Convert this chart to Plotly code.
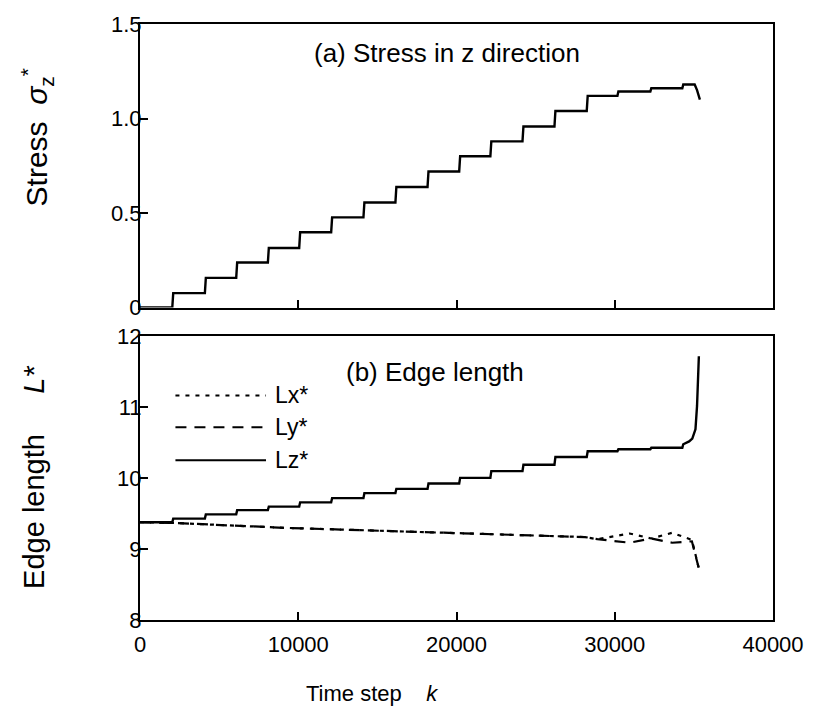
import plotly.graph_objects as go
from plotly.subplots import make_subplots

# ---------------- data ----------------
# time steps at which the load is incremented
step_k = [2040, 4100, 6080, 8080, 10060, 12080, 14120, 16140, 18170,
          20170, 22140, 24170, 26190, 28230, 30170, 32250, 34270]
# panel (a): stress level after each increment
sigma_levels = [0.076, 0.157, 0.238, 0.315, 0.398, 0.477, 0.556, 0.638, 0.72,
                0.80, 0.879, 0.958, 1.04, 1.12, 1.143, 1.16, 1.18]
sigma_start = 0.0
sigma_tail_k = [35050, 35200, 35380]
sigma_tail = [1.18, 1.15, 1.10]

# panel (b): Lz after each increment
lz_start = 9.38
lz_levels = [9.43, 9.49, 9.55, 9.60, 9.66, 9.72, 9.79, 9.85, 9.925,
             10.005, 10.10, 10.19, 10.30, 10.38, 10.41, 10.43, 10.48]
lz_tail_k = [34700, 34900, 35100, 35200, 35270, 35315]
lz_tail = [10.52, 10.56, 10.69, 11.02, 11.39, 11.72]

# Lx and Ly
lxy_k = [0, 2060, 9190, 18750, 28125, 28900, 30940, 32310, 33625, 34875, 35300]
lx = [9.38, 9.37, 9.30, 9.23, 9.17, 9.14, 9.22, 9.15, 9.23, 9.13, 8.74]
ly = [9.38, 9.37, 9.30, 9.23, 9.17, 9.14, 9.09, 9.15, 9.09, 9.11, 8.74]

x_ticks = [0, 10000, 20000, 30000, 40000]
x_ticktext = ["0", "10000", "20000", "30000", "40000"]
y1_ticks = [0, 0.5, 1.0, 1.5]
y1_ticktext = ["0", "0.5", "1.0", "1.5"]
y2_ticks = [8, 9, 10, 11, 12]
y2_ticktext = ["8", "9", "10", "11", "12"]


def stair(v0, ks, vs, rise=60):
    xs, ys = [0], [v0]
    prev = v0
    for k, v in zip(ks, vs):
        xs += [k, k + rise]
        ys += [prev, v]
        prev = v
    return xs, ys


sx, sy = stair(sigma_start, step_k, sigma_levels)
sx += sigma_tail_k
sy += sigma_tail

zx, zy = stair(lz_start, step_k, lz_levels)
zx += lz_tail_k
zy += lz_tail

FONT = "Liberation Sans, Arial, sans-serif"

W, H = 816, 713
L, T = 140, 23
PW, PH = 643, 597
R, B = W - L - PW, H - T - PH


def px(xa):
    return (xa - L) / PW


def py(ya):
    return (620 - ya) / PH


fig = make_subplots(rows=2, cols=1)

fig.add_trace(go.Scatter(x=sx, y=sy, mode="lines",
                         line=dict(color="black", width=2.4),
                         showlegend=False), row=1, col=1)
fig.add_trace(go.Scatter(x=lxy_k, y=lx, mode="lines", name="Lx*",
                         line=dict(color="black", width=2.2, dash="4px,6px"),
                         showlegend=False), row=2, col=1)
fig.add_trace(go.Scatter(x=lxy_k, y=ly, mode="lines", name="Ly*",
                         line=dict(color="black", width=2.2, dash="11px,8px"),
                         showlegend=False), row=2, col=1)
fig.add_trace(go.Scatter(x=zx, y=zy, mode="lines", name="Lz*",
                         line=dict(color="black", width=2.4),
                         showlegend=False), row=2, col=1)

axis_common = dict(showline=True, linecolor="black", linewidth=2, mirror=True,
                   ticks="inside", ticklen=8, tickwidth=1.5, tickcolor="black",
                   showgrid=False, zeroline=False,
                   tickfont=dict(family=FONT, size=22, color="black"))

fig.update_xaxes(range=[0, 40000], tickvals=x_ticks, ticktext=x_ticktext,
                 **axis_common)
fig.update_xaxes(showticklabels=False, row=1, col=1)
fig.update_xaxes(ticklabelstandoff=4, row=2, col=1)
fig.update_yaxes(ticklabelstandoff=-8, **axis_common)
fig.update_yaxes(range=[0, 1.5], tickvals=y1_ticks, ticktext=y1_ticktext, row=1, col=1)
fig.update_yaxes(range=[8, 12], tickvals=y2_ticks, ticktext=y2_ticktext, row=2, col=1)

fig.update_layout(
    width=W, height=H,
    margin=dict(l=L, r=R, t=T, b=B),
    paper_bgcolor="white", plot_bgcolor="white",
    font=dict(family=FONT, color="black"),
    yaxis=dict(domain=[py(307), 1.0]),
    yaxis2=dict(domain=[0.0, py(336)]),
    xaxis=dict(domain=[0, 1]), xaxis2=dict(domain=[0, 1]),
)

annotations = [
    dict(text="(a) Stress in z direction", x=452, y=52),
    dict(text="(b) Edge length", x=440, y=372),
]
for a in annotations:
    fig.add_annotation(text=a["text"], xref="paper", yref="paper",
                       x=px(a["x"]), y=py(a["y"]),
                       showarrow=False, xanchor="center", yanchor="middle",
                       font=dict(family=FONT, size=26, color="black"))

# axis titles
fig.add_annotation(text="Stress&nbsp;&nbsp;<i>σ</i><sub>z</sub><sup>*</sup>",
                   xref="paper", yref="paper", x=px(35), y=py(137),
                   textangle=-90, showarrow=False, xanchor="center", yanchor="middle",
                   font=dict(family=FONT, size=30, color="black"))
fig.add_annotation(text="Edge length&nbsp;&nbsp;&nbsp;&nbsp;&nbsp;<i>L*</i>",
                   xref="paper", yref="paper", x=px(33), y=py(477),
                   textangle=-90, showarrow=False, xanchor="center", yanchor="middle",
                   font=dict(family=FONT, size=29, color="black"))
fig.add_annotation(text="Time step&nbsp;&nbsp;&nbsp;&nbsp;<i>k</i>",
                   xref="paper", yref="paper", x=px(376), y=py(694),
                   showarrow=False, xanchor="center", yanchor="middle",
                   font=dict(family=FONT, size=22, color="black"))

# legend (drawn as key lines + labels)
legend_items = [("Lx*", "4px,6px", 395), ("Ly*", "11px,8px", 427), ("Lz*", "solid", 460)]
for label, dash, yy in legend_items:
    fig.add_shape(type="line", xref="paper", yref="paper",
                  x0=px(176), x1=px(268), y0=py(yy), y1=py(yy),
                  line=dict(color="black", width=2, dash=dash))
    fig.add_annotation(text=label, xref="paper", yref="paper",
                       x=px(275), y=py(yy),
                       showarrow=False, xanchor="left", yanchor="middle",
                       font=dict(family=FONT, size=23, color="black"))

fig.write_html("out.html",
               config={"displayModeBar": False},
               post_script="document.body.style.margin='0';"
                           "document.body.style.overflow='hidden';")
